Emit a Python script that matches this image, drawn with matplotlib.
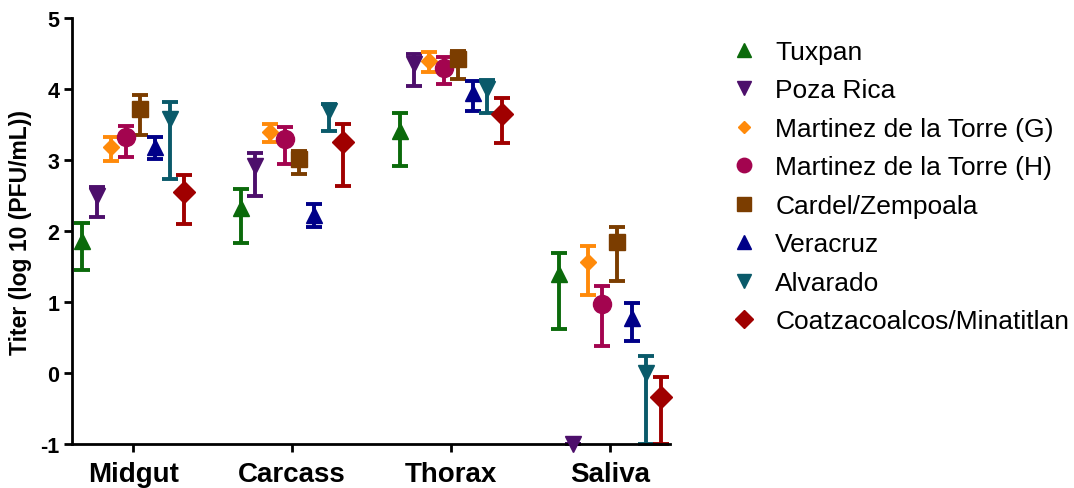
import numpy as np
import matplotlib
matplotlib.use("Agg")
import matplotlib.pyplot as plt
from matplotlib.lines import Line2D

plt.rcParams['font.family'] = ['Liberation Sans', 'DejaVu Sans']

tissues = ["Midgut", "Carcass", "Thorax", "Saliva"]
sites = ["Tuxpan", "Poza Rica", "Martinez de la Torre (G)", "Martinez de la Torre (H)",
         "Cardel/Zempoala", "Veracruz", "Alvarado", "Coatzacoalcos/Minatitlan"]

# mean titer per site, one list per tissue (Midgut, Carcass, Thorax, Saliva)
tuxpan = [1.86, 2.33, 3.41, 1.39]
poza_rica = [2.50, 2.92, 4.35, -1.0]
mdlt_g = [3.18, 3.39, 4.40, 1.57]
mdlt_h = [3.32, 3.30, 4.29, 0.97]
cardel = [3.72, 3.01, 4.42, 1.84]
veracruz = [3.18, 2.22, 3.95, 0.78]
alvarado = [3.58, 3.69, 4.00, 0.00]
coatza = [2.55, 3.25, 3.65, -0.34]

# error bar ends (upper / lower)
tuxpan_hi = [2.11, 2.59, 3.66, 1.69]
tuxpan_lo = [1.45, 1.83, 2.92, 0.62]
poza_rica_hi = [2.62, 3.10, 4.49, -1.0]
poza_rica_lo = [2.20, 2.50, 4.05, -1.0]
mdlt_g_hi = [3.33, 3.51, 4.52, 1.79]
mdlt_g_lo = [2.99, 3.25, 4.24, 1.10]
mdlt_h_hi = [3.48, 3.47, 4.45, 1.23]
mdlt_h_lo = [3.04, 2.94, 4.07, 0.38]
cardel_hi = [3.92, 3.13, 4.54, 2.06]
cardel_lo = [3.35, 2.81, 4.14, 1.30]
veracruz_hi = [3.33, 2.38, 4.12, 0.98]
veracruz_lo = [3.02, 2.05, 3.69, 0.45]
alvarado_hi = [3.82, 3.79, 4.13, 0.24]
alvarado_lo = [2.73, 3.41, 3.66, -1.0]
coatza_hi = [2.79, 3.51, 3.87, -0.05]
coatza_lo = [2.10, 2.64, 3.24, -1.0]

means = [tuxpan, poza_rica, mdlt_g, mdlt_h, cardel, veracruz, alvarado, coatza]
highs = [tuxpan_hi, poza_rica_hi, mdlt_g_hi, mdlt_h_hi, cardel_hi, veracruz_hi, alvarado_hi, coatza_hi]
lows = [tuxpan_lo, poza_rica_lo, mdlt_g_lo, mdlt_h_lo, cardel_lo, veracruz_lo, alvarado_lo, coatza_lo]

colors = ["#0b6a0b", "#4d0f6b", "#ff8a0a", "#a3044f", "#7b3d00", "#000088", "#0a5a6a", "#a00000"]
markers = ["^", "v", "D", "o", "s", "^", "v", "D"]
msizes = [12, 12, 8, 13, 12, 12, 12, 11]

fig = plt.figure(figsize=(10.74, 4.89), dpi=100)
ax = fig.add_axes([0.067, 0.09, 0.557, 0.871])

x = np.arange(len(tissues))
step = 0.092
for i in range(len(sites)):
    m = np.array(means[i])
    hi = np.array(highs[i])
    lo = np.array(lows[i])
    xs = x + (i - 3.5) * step
    ax.errorbar(xs, m, yerr=[m - lo, hi - m], fmt='none', ecolor=colors[i],
                elinewidth=2.8, capsize=5.5, capthick=2.8, clip_on=False, zorder=2)
    ax.plot(xs, m, linestyle='none', marker=markers[i], color=colors[i],
            markersize=msizes[i], clip_on=False, zorder=3)

ax.set_xlim(-0.385, 3.38)
ax.set_ylim(-1, 5)
ax.set_yticks(range(-1, 6))
ax.set_yticklabels([str(v) for v in range(-1, 6)], fontsize=15.5, fontweight='bold')
ax.set_xticks(x)
ax.set_xticklabels(tissues, fontsize=20, fontweight='bold')
ax.set_ylabel("Titer (log 10 (PFU/mL))", fontsize=16.5, fontweight='bold', labelpad=6)

for s in ['top', 'right']:
    ax.spines[s].set_visible(False)
for s in ['left', 'bottom']:
    ax.spines[s].set_linewidth(2.0)
ax.tick_params(axis='both', width=2.0, length=6)
ax.tick_params(axis='x', pad=6)
ax.tick_params(axis='y', pad=3)

handles = [Line2D([], [], linestyle='none', marker=markers[i], color=colors[i],
                  markersize=msizes[i] * 0.8) for i in range(len(sites))]
fig.legend(handles, sites, loc='upper left', bbox_to_anchor=(0.658, 0.965),
           frameon=False, fontsize=19, handletextpad=0.7, labelspacing=0.55,
           handlelength=1.0)

fig.savefig("out.png", dpi=100)
